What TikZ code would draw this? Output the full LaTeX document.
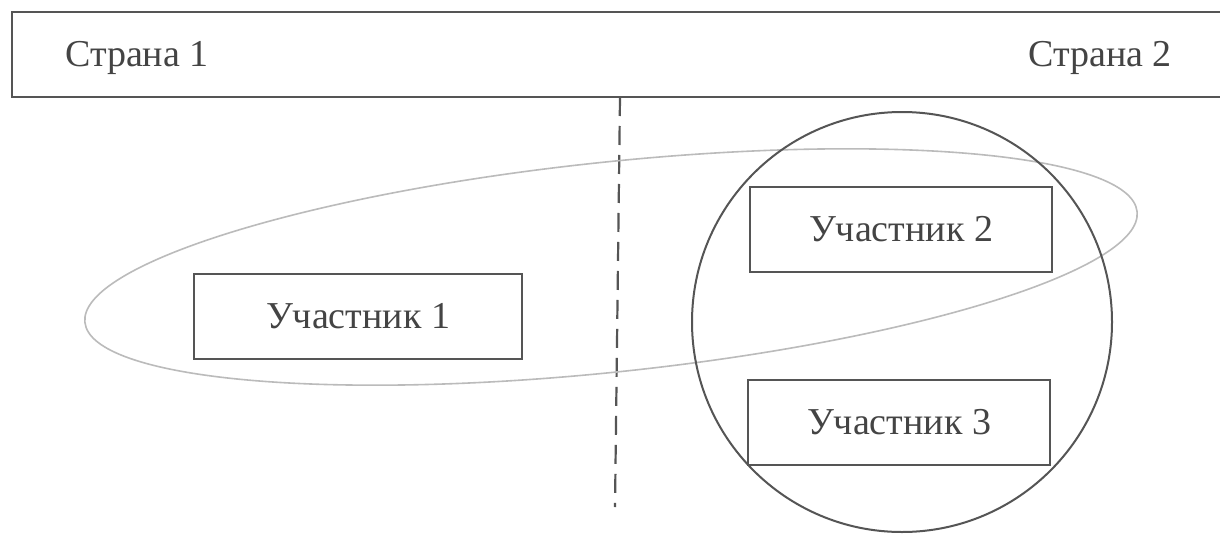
\documentclass[tikz,border=0pt]{standalone}
\usepackage{fontspec}
\setmainfont{Liberation Serif}
\usepackage{tikz}
\usetikzlibrary{shapes.geometric}
\definecolor{inkgray}{HTML}{555555}
\definecolor{textgray}{HTML}{444444}
\definecolor{palegray}{HTML}{BBBBBB}
\tikzset{
    every node/.style={inner sep=0pt, text=textgray,
    	font=\fontsize{38}{42}\selectfont}
}
\tikzset{
    member/.style={rectangle, draw=inkgray, line width=2pt,
    	minimum width=#1, minimum height=85pt},
    member/.default=302pt
}
\tikzset{
    border/.style={dash pattern=on 19pt off 10pt, line width=2.2pt, draw=inkgray}
}

\begin{document}
\begin{tikzpicture}[x=1pt, y=-1pt]
  \useasboundingbox (0,0) rectangle (1220,535);
  \fill[white] (0,0) rectangle (1220,535);

  \draw[inkgray, line width=2.5pt] (12,12) rectangle (1240,97);
  \node (c1) [anchor=west] at (65,58) {Страна 1};
  \node (c2) [anchor=east] at (1172,58) {Страна 2};

  \coordinate (top) at (620,97);
  \coordinate (bottom) at (615,507);
  \draw[border] (top) -- (bottom);

  \node (zone) [ellipse, draw=palegray, line width=1.6pt, minimum width=1058pt,
  	minimum height=210pt, rotate=6] at (611,267) {};
  \node (union) [circle, draw=inkgray, line width=2pt, minimum size=420pt]
  	at (902,322) {};

  \node (u1) [member=328pt] at (358,316) {Участник 1};
  \node (u2) [member] at (901,229) {Участник 2};
  \node (u3) [member] at (899,422) {Участник 3};
\end{tikzpicture}
\end{document}
